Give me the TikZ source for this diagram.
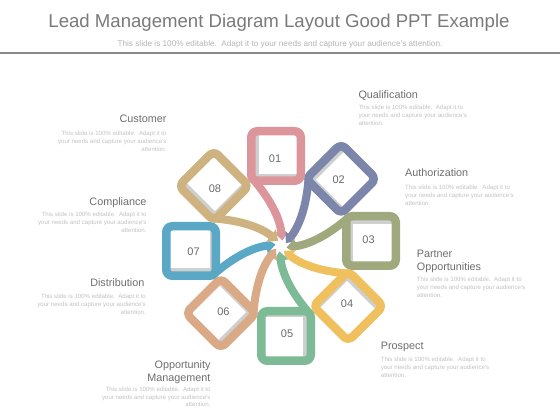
\documentclass[tikz,border=0pt]{standalone}
\usepackage{fontspec}
\setmainfont{Liberation Sans}
\usetikzlibrary{arrows.meta}
\definecolor{c1}{HTML}{DC969B}
\definecolor{c2}{HTML}{7C86AA}
\definecolor{c3}{HTML}{A0A87D}
\definecolor{c4}{HTML}{F0C05F}
\definecolor{c5}{HTML}{7DBA96}
\definecolor{c6}{HTML}{DAAA87}
\definecolor{c7}{HTML}{5AA8C6}
\definecolor{c8}{HTML}{CEB280}
\definecolor{titlegray}{HTML}{7A7A7A}
\definecolor{subgray}{HTML}{B5B5B5}
\definecolor{labelgray}{HTML}{6E6E6E}
\definecolor{descgray}{HTML}{C2C2C2}
\definecolor{numgray}{HTML}{6A6A6A}
\definecolor{shadegray}{HTML}{CFCFCF}
\definecolor{rulegray}{HTML}{8A8A8A}
\tikzset{
  frame/.style={line width=8.5pt, rounded corners=6pt, line join=round},
  tailline/.style={line width=8pt, -{Triangle[width=15pt,length=9pt]}},
  halo/.style={draw=white, line width=11pt, -{Triangle[width=19pt,length=12pt]}},
  numtext/.style={font=\fontsize{11}{13}\selectfont, text=numgray, inner sep=0pt},
  lbl/.style={font=\fontsize{10.8}{12.8}\selectfont, text=labelgray, inner sep=0pt},
  desc/.style={font=\fontsize{6.1}{7.8}\selectfont, text=descgray, inner sep=0pt},
}
\begin{document}
\begin{tikzpicture}[x=1pt,y=1pt]
\useasboundingbox (0,0) rectangle (560,420);
\fill[white] (0,0) rectangle (560,420);
% header
\node[font=\fontsize{18.6}{22}\selectfont, text=titlegray, anchor=base, inner sep=0pt] (title) at (279,392.5) {Lead Management Diagram Layout Good PPT Example};
\node[font=\fontsize{8.2}{10}\selectfont, text=subgray, anchor=base, inner sep=0pt] (subtitle) at (280,373) {This slide is 100\% editable.\ \ Adapt it to your needs and capture your audience's attention.};
\coordinate (ruleL) at (0,367);
\coordinate (ruleR) at (560,367);
\draw[rulegray, line width=2.5pt] (ruleL) -- (ruleR);
% centre of the pinwheel
\coordinate (C) at (281,174);
% tails
\foreach \k/\col in {1/c1,2/c2,3/c3,4/c4,5/c5,6/c6,7/c7,8/c8}{
  \begin{scope}[shift={(C)}, rotate={-45*(\k-1)}]
    \draw[halo] (-28.5,67.5) .. controls (-15,52) and (-2,32) .. (1.5,5.5);
    \draw[tailline, draw=\col] (-28.5,67.5) .. controls (-15,52) and (-2,32) .. (1.5,5.5);
  \end{scope}
}
% boxes
\foreach \k/\col in {1/c1,2/c2,3/c3,4/c4,5/c5,6/c6,7/c7,8/c8}{
  \begin{scope}[shift={(C)}, rotate={-45*(\k-1)}]
    \fill[shadegray] (-26,69) rectangle (16,111);
    \fill[white] (-22,71.5) rectangle (16,111);
    \draw[frame, draw=\col] (-29.75,65.25) rectangle (19.75,114.75);
    \node[numtext] (n\k) at (-6,87.5) {0\k};
  \end{scope}
}
% labels right
\node[lbl, anchor=base west] (t1) at (358.3,321.5) {Qualification};
\node[desc, anchor=base west, align=left] (d1) at (358.3,294.9) {This slide is 100\% editable.\ \ Adapt it to\\your needs and capture your audience's\\attention.};
\node[lbl, anchor=base west] (t2) at (405,243) {Authorization};
\node[desc, anchor=base west, align=left] (d2) at (405,214.4) {This slide is 100\% editable.\ \ Adapt it to\\your needs and capture your audience's\\attention.};
\node[lbl, anchor=base west, align=left] (t3) at (416.7,149.3) {Partner\\Opportunities};
\node[desc, anchor=base west, align=left] (d3) at (416.7,122.4) {This slide is 100\% editable.\ \ Adapt it to\\your needs and capture your audience's\\attention.};
\node[lbl, anchor=base west] (t4) at (380.7,70.5) {Prospect};
\node[desc, anchor=base west, align=left] (d4) at (380.7,42.4) {This slide is 100\% editable.\ \ Adapt it to\\your needs and capture your audience's\\attention.};
% labels left
\node[lbl, anchor=base east] (t8) at (166.7,297.5) {Customer};
\node[desc, anchor=base east, align=right] (d8) at (166.7,268.4) {This slide is 100\% editable.\ \ Adapt it to\\your needs and capture your audience's\\attention.};
\node[lbl, anchor=base east] (t7) at (146.7,214) {Compliance};
\node[desc, anchor=base east, align=right] (d7) at (146.7,187.4) {This slide is 100\% editable.\ \ Adapt it to\\your needs and capture your audience's\\attention.};
\node[lbl, anchor=base east] (t6) at (144.5,133.3) {Distribution};
\node[desc, anchor=base east, align=right] (d6) at (146,105.7) {This slide is 100\% editable.\ \ Adapt it to\\your needs and capture your audience's\\attention.};
\node[lbl, anchor=base east, align=right] (t5) at (210.7,38.3) {Opportunity\\Management};
\node[desc, anchor=base east, align=right] (d5) at (210.7,13.1) {This slide is 100\% editable.\ \ Adapt it to\\your needs and capture your audience's\\attention.};
\end{tikzpicture}
\end{document}
